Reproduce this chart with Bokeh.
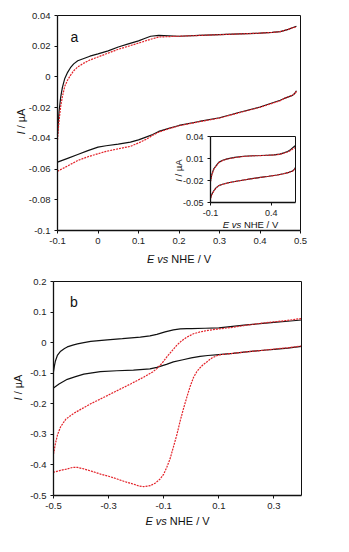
import math
from bokeh.plotting import figure
from bokeh.layouts import column
from bokeh.models import FixedTicker, CustomJSTickFormatter, Label, Range1d, LinearAxis
from bokeh.embed import file_html
from bokeh.resources import INLINE

# ---------------- data: panel a (main) ----------------
a_black_fwd_x = [-0.1, -0.098, -0.096, -0.092, -0.088, -0.082, -0.075, -0.068, -0.06, -0.05, -0.035, -0.02, 0.0, 0.025,
                 0.05, 0.075, 0.1, 0.115, 0.13, 0.15, 0.2, 0.25, 0.3, 0.35, 0.4, 0.43, 0.45, 0.47, 0.48, 0.49]
a_black_fwd_y = [-0.038, -0.03, -0.022, -0.013, -0.007, -0.001, 0.003, 0.006, 0.0085, 0.0105, 0.012, 0.0135, 0.015, 0.017,
                 0.0195, 0.0215, 0.0235, 0.025, 0.0265, 0.027, 0.0265, 0.027, 0.0275, 0.028, 0.0285, 0.029, 0.0295, 0.031, 0.032, 0.033]
a_black_rev_x = [0.49, 0.485, 0.48, 0.46, 0.45, 0.4, 0.35, 0.3, 0.25, 0.2, 0.175, 0.15, 0.135, 0.12, 0.1, 0.08, 0.05, 0.02,
                 0.0, -0.025, -0.05, -0.075, -0.1]
a_black_rev_y = [-0.009, -0.011, -0.012, -0.014, -0.0152, -0.0196, -0.023, -0.0266, -0.029, -0.0316, -0.0335, -0.0355, -0.0375,
                 -0.039, -0.041, -0.0425, -0.0438, -0.0448, -0.0457, -0.048, -0.0505, -0.053, -0.0555]
a_red_fwd_x = [-0.1, -0.098, -0.096, -0.092, -0.088, -0.082, -0.075, -0.068, -0.06, -0.05, -0.035, -0.02, 0.0, 0.025,
               0.05, 0.075, 0.1, 0.115, 0.13, 0.15, 0.2, 0.25, 0.3, 0.35, 0.4, 0.43, 0.45, 0.47, 0.48, 0.49]
a_red_fwd_y = [-0.041, -0.034, -0.028, -0.019, -0.013, -0.006, -0.002, 0.001, 0.004, 0.0065, 0.009, 0.011, 0.013, 0.0155,
               0.018, 0.02, 0.022, 0.0233, 0.0245, 0.026, 0.0265, 0.027, 0.0275, 0.028, 0.0285, 0.029, 0.0295, 0.031, 0.032, 0.0325]
a_red_rev_x = [0.49, 0.485, 0.48, 0.46, 0.45, 0.4, 0.35, 0.3, 0.25, 0.2, 0.175, 0.15, 0.135, 0.12, 0.1, 0.08, 0.05, 0.02,
               0.0, -0.025, -0.05, -0.075, -0.1]
a_red_rev_y = [-0.0095, -0.011, -0.012, -0.014, -0.0155, -0.0198, -0.0232, -0.0268, -0.0292, -0.0318, -0.0337, -0.036, -0.038,
               -0.0405, -0.043, -0.0452, -0.0468, -0.0485, -0.05, -0.052, -0.0544, -0.058, -0.0614]

# ---------------- data: panel a (inset) ----------------
in_black_fwd_x = [-0.1, -0.09, -0.073, -0.05, -0.032, 0.0, 0.037, 0.1, 0.174, 0.25, 0.312, 0.37, 0.422, 0.47, 0.504, 0.535, 0.559, 0.58, 0.6]
in_black_fwd_y = [-0.021, -0.012, -0.004, 0.001, 0.0048, 0.0075, 0.0095, 0.0115, 0.013, 0.0137, 0.014, 0.0145, 0.015, 0.016, 0.0177, 0.0195, 0.022, 0.025, 0.0277]
in_black_rev_x = [0.6, 0.59, 0.575, 0.545, 0.5, 0.449, 0.38, 0.312, 0.24, 0.174, 0.1, 0.037, 0.0, -0.032, -0.055, -0.073, -0.09, -0.1]
in_black_rev_y = [-0.002, -0.005, -0.007, -0.0089, -0.0108, -0.0125, -0.0142, -0.0157, -0.0175, -0.0193, -0.0213, -0.0234, -0.025, -0.027, -0.03, -0.034, -0.039, -0.044]
in_red_fwd_x = [-0.1, -0.09, -0.073, -0.05, -0.032, 0.0, 0.037, 0.1, 0.174, 0.25, 0.312, 0.37, 0.422, 0.47, 0.504, 0.535, 0.559, 0.58, 0.6]
in_red_fwd_y = [-0.022, -0.013, -0.005, 0.0005, 0.0043, 0.0072, 0.0093, 0.0113, 0.0128, 0.0136, 0.0139, 0.0144, 0.0148, 0.0157, 0.0172, 0.0188, 0.0208, 0.0232, 0.025]
in_red_rev_x = [0.6, 0.59, 0.575, 0.545, 0.5, 0.449, 0.38, 0.312, 0.24, 0.174, 0.1, 0.037, 0.0, -0.032, -0.055, -0.073, -0.09, -0.1]
in_red_rev_y = [-0.003, -0.0055, -0.0073, -0.009, -0.0109, -0.0126, -0.0143, -0.0158, -0.0176, -0.0194, -0.0214, -0.0236, -0.0252, -0.0272, -0.0303, -0.0345, -0.0395, -0.045]

# ---------------- data: panel b ----------------
b_black_fwd_x = [-0.5, -0.497, -0.493, -0.486, -0.474, -0.46, -0.45, -0.43, -0.413, -0.39, -0.365, -0.305, -0.25, -0.185,
                 -0.15, -0.125, -0.095, -0.065, -0.04, -0.016, 0.0, 0.05, 0.1, 0.15, 0.2, 0.25, 0.3, 0.35, 0.4]
b_black_fwd_y = [-0.095, -0.078, -0.06, -0.042, -0.028, -0.019, -0.014, -0.008, -0.004, 0.0, 0.004, 0.009, 0.013, 0.018,
                 0.022, 0.027, 0.035, 0.042, 0.045, 0.046, 0.046, 0.047, 0.048, 0.053, 0.058, 0.062, 0.066, 0.07, 0.074]
b_black_rev_x = [0.4, 0.35, 0.3, 0.272, 0.2, 0.151, 0.1, 0.06, 0.032, 0.0, -0.03, -0.065, -0.09, -0.125, -0.15, -0.21,
                 -0.27, -0.33, -0.39, -0.42, -0.45, -0.48, -0.5]
b_black_rev_y = [-0.012, -0.018, -0.022, -0.024, -0.03, -0.035, -0.039, -0.042, -0.045, -0.05, -0.056, -0.063, -0.071, -0.081,
                 -0.086, -0.09, -0.092, -0.095, -0.103, -0.111, -0.12, -0.135, -0.148]
b_red_fwd_x = [-0.5, -0.493, -0.485, -0.474, -0.455, -0.426, -0.395, -0.365, -0.32, -0.269, -0.22, -0.173, -0.14, -0.125,
               -0.105, -0.089, -0.07, -0.053, -0.035, -0.016, 0.008, 0.032, 0.06, 0.092, 0.15, 0.2, 0.25, 0.3, 0.35, 0.4]
b_red_fwd_y = [-0.365, -0.33, -0.3, -0.275, -0.25, -0.231, -0.215, -0.2, -0.18, -0.157, -0.135, -0.113, -0.096, -0.085,
               -0.066, -0.047, -0.027, -0.009, 0.006, 0.018, 0.029, 0.035, 0.04, 0.044, 0.05, 0.057, 0.063, 0.068, 0.073, 0.079]
b_red_rev_x = [0.4, 0.35, 0.3, 0.25, 0.2, 0.15, 0.1, 0.075, 0.055, 0.042, 0.032, 0.02, 0.008, -0.004, -0.016, -0.028, -0.04,
               -0.052, -0.065, -0.077, -0.089, -0.1, -0.113, -0.13, -0.149, -0.173, -0.19, -0.209, -0.24, -0.269, -0.3,
               -0.329, -0.36, -0.39, -0.413, -0.43, -0.45, -0.475, -0.5]
b_red_rev_y = [-0.011, -0.017, -0.021, -0.026, -0.03, -0.035, -0.04, -0.05, -0.064, -0.073, -0.082, -0.095, -0.114, -0.143,
               -0.178, -0.215, -0.255, -0.3, -0.342, -0.38, -0.408, -0.43, -0.446, -0.459, -0.468, -0.471, -0.469, -0.463,
               -0.455, -0.446, -0.437, -0.43, -0.421, -0.413, -0.408, -0.408, -0.413, -0.418, -0.424]

a_xr, a_yr = (-0.1, 0.5), (-0.1, 0.04)
in_xr, in_yr = (-0.1, 0.6), (-0.05, 0.04)
b_xr, b_yr = (-0.5, 0.4), (-0.5, 0.2)
a_xticks = [-0.1, 0.0, 0.1, 0.2, 0.3, 0.4, 0.5]
a_yticks = [0.04, 0.02, 0.0, -0.02, -0.04, -0.06, -0.08, -0.1]
in_xticks = [-0.1, 0.4]
in_yticks = [0.04, 0.01, -0.02, -0.05]
b_xticks = [-0.5, -0.3, -0.1, 0.1, 0.3]
b_yticks = [0.2, 0.1, 0.0, -0.1, -0.2, -0.3, -0.4, -0.5]

FONT = "Liberation Sans"
BLACK = "#111111"
RED = "#e3232a"
W = 349

fmt_code = """
let s = tick.toFixed(3);
s = s.replace(/0+$/, '');
if (s.endsWith('.')) s = s.slice(0, -1);
if (s === '-0') s = '0';
return s;
"""


class Box:
    """A plot box placed at pixel rectangle (L, R, T, B) of a canvas of size (w, h);
    gives the full-canvas ranges so that (xr, yr) fill exactly that rectangle."""
    def __init__(self, xr, yr, L, R, T, B, w, h):
        self.xr, self.yr, self.w, self.h = xr, yr, w, h
        sx = (R - L) / (xr[1] - xr[0])
        sy = (B - T) / (yr[1] - yr[0])
        self.x0, self.x1 = xr[0] - L / sx, xr[1] + (w - R) / sx
        self.y0, self.y1 = yr[0] - (h - B) / sy, yr[1] + T / sy

    def rx(self):
        return Range1d(self.x0, self.x1)

    def ry(self):
        return Range1d(self.y0, self.y1)

    def d(self, px, py):
        return (self.x0 + px / self.w * (self.x1 - self.x0),
                self.y1 - py / self.h * (self.y1 - self.y0))


def make_canvas(box, h):
    p = figure(width=W, height=h, x_range=box.rx(), y_range=box.ry(),
               output_backend="svg", toolbar_location=None,
               x_axis_location=None, y_axis_location=None,
               min_border=0, min_border_left=0, min_border_right=0, min_border_top=0, min_border_bottom=0)
    p.xgrid.visible = False
    p.ygrid.visible = False
    p.outline_line_color = None
    p.background_fill_color = "white"
    p.border_fill_color = "white"
    return p


def add_axis(p, place, box, xname, yname, loc, ticks, size, width=1.3):
    bounds = box.xr if place in ("below", "above") else box.yr
    ax = LinearAxis(x_range_name=xname, y_range_name=yname, fixed_location=loc, bounds=bounds,
                    ticker=FixedTicker(ticks=ticks), formatter=CustomJSTickFormatter(code=fmt_code))
    ax.axis_line_color = BLACK
    ax.axis_line_width = width
    ax.major_tick_line_color = BLACK
    ax.major_tick_out = 3
    ax.major_tick_in = 0
    ax.minor_tick_out = 0
    ax.minor_tick_in = 0
    ax.major_label_text_font = FONT
    ax.major_label_text_font_size = size
    ax.major_label_text_color = "#222222"
    ax.major_label_standoff = 4
    p.add_layout(ax, place)


def frame_axes(p, box, xname, yname, xticks, yticks, size):
    add_axis(p, "below", box, xname, yname, box.yr[0], xticks, size)
    add_axis(p, "left", box, xname, yname, box.xr[0], yticks, size)
    add_axis(p, "above", box, xname, yname, box.yr[1], [], size, width=1.0)
    add_axis(p, "right", box, xname, yname, box.xr[1], [], size, width=1.0)


def add_text(p, box, px, py, text, size, style="normal", align="left", angle=0.0):
    x, y = box.d(px, py)
    p.add_layout(Label(x=x, y=y, text=text, text_font=FONT, text_font_size=f"{size}px",
                       text_font_style=style, text_align=align, text_baseline="middle",
                       angle=angle, text_color="#111111"))


def xlabel(p, box, cx, cy, size):
    e, sp, vs = 0.667 * size, 0.278 * size, 1.0 * size
    total = e + sp + vs + sp + 3.612 * size
    x0 = cx - total / 2
    add_text(p, box, x0, cy, "E", size, "italic")
    add_text(p, box, x0 + e + sp, cy, "vs", size, "italic")
    add_text(p, box, x0 + e + sp + vs + sp, cy, "NHE / V", size)


def ylabel(p, box, cx, cy, size):
    total = 2.355 * size
    y0 = cy + total / 2
    add_text(p, box, cx, y0, "I", size, "italic", angle=math.pi / 2)
    add_text(p, box, cx, y0 - 0.556 * size, "/ \u00b5A", size, angle=math.pi / 2)


def curves(p, bf, br, rf, rr, xname="default", yname="default", w=1.2):
    kw = dict(x_range_name=xname, y_range_name=yname)
    p.line(bf[0], bf[1], line_color=BLACK, line_width=w, **kw)
    p.line(br[0], br[1], line_color=BLACK, line_width=w, **kw)
    p.line(rf[0], rf[1], line_color=RED, line_width=w, line_dash="2 1", **kw)
    p.line(rr[0], rr[1], line_color=RED, line_width=w, line_dash="2 1", **kw)


# ---------- panel a ----------
HA = 270
box_a = Box(a_xr, a_yr, 57, 300, 15, 230, W, HA)
box_i = Box(in_xr, in_yr, 210, 295, 136, 202, W, HA)
p1 = make_canvas(box_a, HA)
p1.extra_x_ranges = {"ix": box_i.rx()}
p1.extra_y_ranges = {"iy": box_i.ry()}

curves(p1, (a_black_fwd_x, a_black_fwd_y), (a_black_rev_x, a_black_rev_y),
       (a_red_fwd_x, a_red_fwd_y), (a_red_rev_x, a_red_rev_y))
frame_axes(p1, box_a, "default", "default", a_xticks, a_yticks, "9.5px")
add_text(p1, box_a, 74, 36, "a", 14, align="center")
xlabel(p1, box_a, 178.5, 258, 11)
ylabel(p1, box_a, 20, 121, 11)

# inset (white panel + its own scales)
p1.quad(left=[in_xr[0]], right=[in_xr[1]], bottom=[in_yr[0]], top=[in_yr[1]],
        x_range_name="ix", y_range_name="iy", fill_color="white", line_color=None)
curves(p1, (in_black_fwd_x, in_black_fwd_y), (in_black_rev_x, in_black_rev_y),
       (in_red_fwd_x, in_red_fwd_y), (in_red_rev_x, in_red_rev_y), "ix", "iy", 1.1)
frame_axes(p1, box_i, "ix", "iy", in_xticks, in_yticks, "9px")
xlabel(p1, box_a, 250, 223.5, 9.5)
ylabel(p1, box_a, 177.5, 170, 9.5)

# ---------- panel b ----------
HB = 282
box_b = Box(b_xr, b_yr, 53, 301, 11, 225, W, HB)
p2 = make_canvas(box_b, HB)
curves(p2, (b_black_fwd_x, b_black_fwd_y), (b_black_rev_x, b_black_rev_y),
       (b_red_fwd_x, b_red_fwd_y), (b_red_rev_x, b_red_rev_y))
frame_axes(p2, box_b, "default", "default", b_xticks, b_yticks, "9.5px")
add_text(p2, box_b, 73.5, 31, "b", 14, align="center")
xlabel(p2, box_b, 177, 250, 11)
ylabel(p2, box_b, 17, 117, 11)

layout = column(p1, p2, spacing=0)
open("out.html", "w").write(file_html(layout, INLINE))
